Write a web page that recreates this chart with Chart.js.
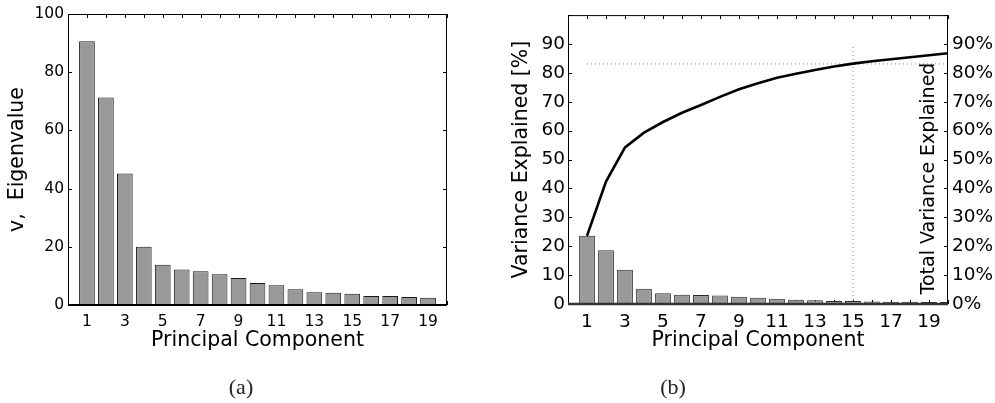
<!DOCTYPE html>
<html>
<head>
<meta charset="utf-8">
<script src="https://cdn.jsdelivr.net/npm/chart.js@4.4.1/dist/chart.umd.min.js"></script>
<style>
  html, body { margin: 0; padding: 0; background: #fff; }
  #wrap { position: relative; width: 995px; height: 403px; overflow: hidden; }
  canvas { position: absolute; left: 0; top: 0; }
  .cap { position: absolute; top: 374px; font: 22px "Liberation Serif", serif; color: #222; transform: translateX(-50%); }
</style>
</head>
<body>
<div id="wrap">
  <canvas id="chartA" width="995" height="403"></canvas>
  <canvas id="chartB" width="995" height="403"></canvas>
  <div class="cap" style="left:241px">(a)</div>
  <div class="cap" style="left:673px">(b)</div>
</div>
<script>
// Data
const components = [1, 2, 3, 4, 5, 6, 7, 8, 9, 10, 11, 12, 13, 14, 15, 16, 17, 18, 19];
const eigenvalues = [90.6, 71.3, 45.2, 20.0, 13.8, 12.2, 11.6, 10.6, 9.3, 7.6, 6.8, 5.4, 4.35, 4.2, 3.9, 3.1, 3.1, 2.75, 2.5];

const componentsB = [1, 2, 3, 4, 5, 6, 7, 8, 9, 10, 11, 12, 13, 14, 15, 16, 17, 18, 19, 20];
const varianceExplained = [23.6, 18.6, 11.85, 5.3, 3.7, 3.2, 3.1, 2.9, 2.5, 2.2, 1.8, 1.5, 1.3, 1.0, 1.0, 0.9, 0.8, 0.8, 0.7, 0.7];
const totalExplained = [23.6, 42.4, 54.2, 59.3, 63.0, 66.2, 68.9, 71.7, 74.3, 76.4, 78.3, 79.7, 81.0, 82.2, 83.2, 84.0, 84.7, 85.4, 86.1, 86.8];

// dotted guide lines in (b)
const guideH = [[1, 83.1], [20, 83.1]];
const guideV = [[15, 0], [15, 89.5]];

const xTickLabels = [1, 3, 5, 7, 9, 11, 13, 15, 17, 19];

Chart.defaults.color = '#000';
Chart.defaults.font.family = '"DejaVu Sans", sans-serif';
Chart.defaults.animation = false;

const toPoints = (xs, ys) => xs.map((x, i) => ({ x: x, y: ys[i] }));
const pairs = arr => arr.map(p => ({ x: p[0], y: p[1] }));

// MATLAB style box with inward tick marks
const ticksPlugin = {
  id: 'inTicks',
  beforeDatasetsDraw(chart, args, opts) {
    const { ctx, chartArea: a, scales } = chart;
    ctx.save();
    ctx.strokeStyle = '#000';
    ctx.lineWidth = 1;
    ctx.beginPath();
    scales.x.ticks.forEach(t => {
      const px = Math.round(scales.x.getPixelForValue(t.value)) + 0.5;
      ctx.moveTo(px, a.top); ctx.lineTo(px, a.top + 4);
      ctx.moveTo(px, a.bottom); ctx.lineTo(px, a.bottom - 4);
    });
    Object.values(scales).forEach(s => {
      if (s.isHorizontal()) return;
      s.ticks.forEach(t => {
        const py = Math.round(s.getPixelForValue(t.value)) + 0.5;
        if (s.position === 'left' || opts.mirror) {
          ctx.moveTo(a.left, py); ctx.lineTo(a.left + 4, py);
        }
        if (s.position === 'right' || opts.mirror) {
          ctx.moveTo(a.right, py); ctx.lineTo(a.right - 4, py);
        }
      });
    });
    ctx.stroke();
    ctx.restore();
  },
  afterDatasetsDraw(chart, args, opts) {
    const { ctx, chartArea: a } = chart;
    ctx.save();
    ctx.strokeStyle = '#000';
    ctx.lineWidth = 1;
    ctx.strokeRect(a.left + 0.5, a.top + 0.5, a.width - 1, a.height);
    ctx.strokeStyle = opts.baseColor || '#000';
    ctx.lineWidth = opts.baseWidth || 2;
    ctx.beginPath();
    ctx.moveTo(a.left, a.bottom);
    ctx.lineTo(a.right, a.bottom);
    ctx.stroke();
    if (opts.innerLabel) {
      ctx.translate(a.right - 18.5, 178.5);
      ctx.rotate(-Math.PI / 2);
      ctx.fillStyle = '#000';
      ctx.font = '19px "DejaVu Sans", sans-serif';
      ctx.textAlign = 'center';
      ctx.textBaseline = 'middle';
      ctx.fillText(opts.innerLabel, 0, 0);
    }
    ctx.restore();
  }
};

const oddOnly = v => (xTickLabels.includes(v) ? String(v) : '');
const noGrid = { display: false, drawTicks: false, tickLength: 0 };

// (a) eigenvalues
new Chart(document.getElementById('chartA'), {
  type: 'bar',
  data: {
    datasets: [{
      data: toPoints(components, eigenvalues),
      backgroundColor: '#999999',
      borderColor: '#1a1a1a',
      borderWidth: 1,
      borderSkipped: false,
      categoryPercentage: 1,
      barPercentage: 0.83,
      clip: 0
    }]
  },
  options: {
    responsive: false,
    devicePixelRatio: 1,
    layout: { padding: { left: 0, right: 548, top: 14, bottom: 0 } },
    plugins: {
      legend: { display: false },
      tooltip: { enabled: false },
      inTicks: { mirror: true, baseWidth: 2 }
    },
    scales: {
      x: {
        type: 'linear', position: 'bottom', min: 0, max: 20, offset: false,
        grid: noGrid, border: { display: false },
        ticks: { stepSize: 1, autoSkip: false, maxRotation: 0, padding: 8, font: { size: 15.5 }, callback: oddOnly },
        title: { display: true, text: 'Principal Component', font: { size: 20.5 }, padding: { top: 0, bottom: 50 } },
        afterFit: s => { s.height = 98; }
      },
      y: {
        min: 0, max: 100,
        grid: noGrid, border: { display: false },
        ticks: { stepSize: 20, padding: 4, font: { size: 15.5 } },
        title: { display: true, text: 'v,  Eigenvalue', font: { size: 20.5 }, padding: { top: 5.5, bottom: 0 } },
        afterFit: s => { s.width = 68; }
      }
    }
  },
  plugins: [ticksPlugin]
});

// (b) variance explained + cumulative
new Chart(document.getElementById('chartB'), {
  type: 'bar',
  data: {
    datasets: [{
      type: 'line',
      data: toPoints(componentsB, totalExplained),
      borderColor: '#000',
      borderWidth: 2.6,
      pointRadius: 0,
      tension: 0,
      yAxisID: 'y',
      order: 0
    }, {
      type: 'line',
      data: pairs(guideH),
      borderColor: '#8a8a8a',
      borderWidth: 1,
      borderDash: [1, 3],
      pointRadius: 0,
      yAxisID: 'y',
      order: 1
    }, {
      type: 'line',
      data: pairs(guideV),
      borderColor: '#8a8a8a',
      borderWidth: 1,
      borderDash: [1, 3],
      pointRadius: 0,
      yAxisID: 'y',
      order: 1
    }, {
      data: toPoints(componentsB, varianceExplained),
      backgroundColor: '#999999',
      borderColor: '#2a2a2a',
      borderWidth: 1,
      borderSkipped: false,
      categoryPercentage: 1,
      barPercentage: 0.83,
      yAxisID: 'y',
      clip: 0,
      order: 2
    }]
  },
  options: {
    responsive: false,
    devicePixelRatio: 1,
    layout: { padding: { left: 497, right: 0, top: 14, bottom: 0 } },
    plugins: {
      legend: { display: false },
      tooltip: { enabled: false },
      inTicks: { mirror: false, baseWidth: 2.5, baseColor: '#333', innerLabel: 'Total Variance Explained' }
    },
    scales: {
      x: {
        type: 'linear', position: 'bottom', min: 0, max: 20, offset: false,
        grid: noGrid, border: { display: false },
        ticks: { stepSize: 1, autoSkip: false, maxRotation: 0, padding: 7, font: { size: 18.5 }, callback: oddOnly },
        title: { display: true, text: 'Principal Component', font: { size: 20.5 }, padding: { top: 0, bottom: 50 } },
        afterFit: s => { s.height = 99; }
      },
      y: {
        position: 'left', min: 0, max: 100,
        grid: noGrid, border: { display: false },
        ticks: { stepSize: 10, padding: 3, font: { size: 18.5 }, callback: v => (v === 100 ? '' : v) },
        title: { display: true, text: 'Variance Explained [%]', font: { size: 20.5 }, padding: { top: 12.5, bottom: 0 } },
        afterFit: s => { s.width = 71; }
      },
      y2: {
        type: 'linear', position: 'right', min: 0, max: 100,
        grid: noGrid, border: { display: false },
        ticks: { stepSize: 10, padding: 4, font: { size: 18.5 }, callback: v => (v === 100 ? '' : v + '%') },
        afterFit: s => { s.width = 47; }
      }
    }
  },
  plugins: [ticksPlugin]
});
</script>
</body>
</html>
